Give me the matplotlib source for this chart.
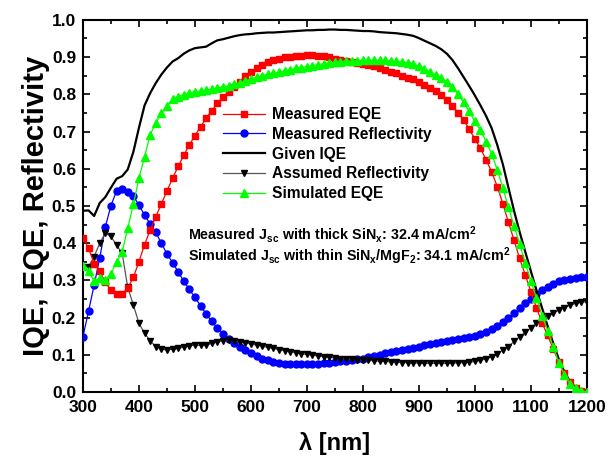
import numpy as np
import matplotlib
matplotlib.use("Agg")
import matplotlib.pyplot as plt
from matplotlib.ticker import MultipleLocator

plt.rcParams['font.family'] = ['Liberation Sans', 'DejaVu Sans']
plt.rcParams['font.weight'] = 'bold'
plt.rcParams['mathtext.fontset'] = 'custom'
plt.rcParams['mathtext.rm'] = 'Liberation Sans:bold'
plt.rcParams['mathtext.default'] = 'rm'

wavelength = np.arange(300, 1201, 10)

measured_eqe = [0.415, 0.386, 0.345, 0.324, 0.295, 0.274, 0.264, 0.264, 0.279, 0.308,
                0.350, 0.396, 0.435, 0.471, 0.505, 0.540, 0.574, 0.606, 0.636, 0.664,
                0.689, 0.713, 0.735, 0.756, 0.776, 0.792, 0.807, 0.820, 0.834, 0.848,
                0.861, 0.871, 0.879, 0.886, 0.891, 0.896, 0.899, 0.901, 0.903, 0.904,
                0.905, 0.905, 0.904, 0.902, 0.899, 0.896, 0.893, 0.890, 0.887, 0.884,
                0.881, 0.878, 0.875, 0.871, 0.866, 0.860, 0.856, 0.850, 0.845, 0.840,
                0.833, 0.825, 0.817, 0.808, 0.797, 0.784, 0.769, 0.751, 0.731, 0.706,
                0.680, 0.655, 0.624, 0.592, 0.552, 0.506, 0.456, 0.408, 0.359, 0.315,
                0.270, 0.227, 0.186, 0.152, 0.116, 0.081, 0.050, 0.027, 0.011, 0.003,
                0.000]

measured_refl = [0.149, 0.217, 0.288, 0.360, 0.444, 0.501, 0.540, 0.546, 0.538, 0.526,
                 0.503, 0.475, 0.452, 0.429, 0.400, 0.371, 0.348, 0.323, 0.298, 0.276,
                 0.254, 0.232, 0.210, 0.190, 0.172, 0.157, 0.143, 0.132, 0.122, 0.113,
                 0.104, 0.096, 0.090, 0.085, 0.081, 0.078, 0.076, 0.075, 0.075, 0.075,
                 0.075, 0.075, 0.076, 0.077, 0.078, 0.080, 0.082, 0.084, 0.086, 0.088,
                 0.090, 0.094, 0.097, 0.100, 0.104, 0.107, 0.110, 0.113, 0.116, 0.119,
                 0.122, 0.125, 0.129, 0.132, 0.134, 0.137, 0.140, 0.143, 0.146, 0.149,
                 0.151, 0.155, 0.162, 0.169, 0.178, 0.188, 0.199, 0.211, 0.225, 0.238,
                 0.251, 0.263, 0.274, 0.283, 0.290, 0.297, 0.301, 0.305, 0.307, 0.309,
                 0.310]

given_iqe = [0.487, 0.488, 0.473, 0.508, 0.524, 0.549, 0.573, 0.580, 0.598, 0.645,
             0.710, 0.770, 0.803, 0.830, 0.853, 0.872, 0.888, 0.897, 0.909, 0.918,
             0.924, 0.926, 0.928, 0.937, 0.945, 0.948, 0.952, 0.956, 0.959, 0.961,
             0.962, 0.964, 0.965, 0.966, 0.966, 0.967, 0.968, 0.969, 0.970, 0.971,
             0.972, 0.972, 0.973, 0.973, 0.974, 0.974, 0.973, 0.973, 0.972, 0.971,
             0.970, 0.970, 0.969, 0.967, 0.966, 0.965, 0.964, 0.962, 0.960, 0.957,
             0.951, 0.944, 0.937, 0.930, 0.921, 0.909, 0.892, 0.870, 0.846, 0.822,
             0.797, 0.770, 0.742, 0.709, 0.664, 0.612, 0.549, 0.487, 0.430, 0.377,
             0.325, 0.274, 0.226, 0.177, 0.131, 0.088, 0.054, 0.028, 0.012, 0.003,
             0.000]

assumed_refl = [0.337, 0.337, 0.364, 0.400, 0.427, 0.418, 0.395, 0.373, 0.281, 0.234,
                0.185, 0.158, 0.138, 0.122, 0.115, 0.113, 0.115, 0.117, 0.121, 0.124,
                0.126, 0.125, 0.125, 0.131, 0.135, 0.138, 0.140, 0.138, 0.135, 0.132,
                0.129, 0.126, 0.123, 0.120, 0.117, 0.114, 0.111, 0.108, 0.106, 0.103,
                0.101, 0.099, 0.097, 0.095, 0.093, 0.092, 0.090, 0.089, 0.088, 0.087,
                0.086, 0.085, 0.084, 0.083, 0.082, 0.081, 0.080, 0.079, 0.079, 0.078,
                0.078, 0.077, 0.077, 0.077, 0.077, 0.077, 0.078, 0.078, 0.079, 0.080,
                0.082, 0.085, 0.089, 0.095, 0.102, 0.112, 0.122, 0.136, 0.148, 0.160,
                0.172, 0.185, 0.195, 0.204, 0.213, 0.220, 0.227, 0.233, 0.238, 0.241,
                0.243]

simulated_eqe = [0.339, 0.325, 0.298, 0.306, 0.300, 0.318, 0.349, 0.377, 0.440, 0.504,
                 0.574, 0.632, 0.691, 0.723, 0.749, 0.768, 0.788, 0.794, 0.799, 0.803,
                 0.807, 0.809, 0.812, 0.814, 0.817, 0.820, 0.822, 0.827, 0.831, 0.836,
                 0.841, 0.846, 0.850, 0.854, 0.857, 0.859, 0.863, 0.866, 0.870, 0.872,
                 0.874, 0.877, 0.880, 0.882, 0.884, 0.886, 0.888, 0.889, 0.889, 0.890,
                 0.891, 0.891, 0.891, 0.891, 0.891, 0.890, 0.889, 0.887, 0.885, 0.881,
                 0.876, 0.869, 0.860, 0.852, 0.843, 0.834, 0.820, 0.801, 0.778, 0.754,
                 0.727, 0.703, 0.673, 0.640, 0.597, 0.549, 0.496, 0.446, 0.398, 0.346,
                 0.299, 0.253, 0.205, 0.165, 0.122, 0.079, 0.046, 0.022, 0.010, 0.003,
                 0.000]

labels = ["Measured EQE", "Measured Reflectivity", "Given IQE",
          "Assumed Reflectivity", "Simulated EQE"]

fig = plt.figure(figsize=(6.10, 4.62), dpi=100)
ax = fig.add_axes([0.136, 0.1515, 0.826, 0.8055])

ax.plot(wavelength, measured_eqe, color='#ff0000', lw=0.9, marker='s', ms=4.2,
        mec='#ff0000', mfc='#ff0000', label=labels[0], zorder=4)
ax.plot(wavelength, measured_refl, color='#0000ff', lw=0.9, marker='o', ms=5,
        mec='#0000ff', mfc='#0000ff', label=labels[1], zorder=3)
ax.plot(wavelength, given_iqe, color='black', lw=1.6, label=labels[2], zorder=3)
ax.plot(wavelength, assumed_refl, color='#555555', lw=0.9, marker='v', ms=5,
        mec='black', mfc='black', label=labels[3], zorder=3)
ax.plot(wavelength, simulated_eqe, color='#00ff00', lw=0.9, marker='^', ms=5.5,
        mec='#00ff00', mfc='#00ff00', label=labels[4], zorder=5)

ax.set_xlim(300, 1200)
ax.set_ylim(0.0, 1.0)
ax.xaxis.set_major_locator(MultipleLocator(100))
ax.xaxis.set_minor_locator(MultipleLocator(50))
ax.yaxis.set_major_locator(MultipleLocator(0.1))
ax.yaxis.set_minor_locator(MultipleLocator(0.05))
ax.yaxis.set_major_formatter(plt.FuncFormatter(lambda v, p: f"{v:.1f}"))
ax.tick_params(which='both', direction='in', top=True, right=True, width=1.2)
ax.tick_params(which='major', length=5, labelsize=12.5)
ax.tick_params(which='minor', length=3)
ax.tick_params(axis='x', which='major', pad=6)
ax.tick_params(axis='y', which='major', pad=5)
for lab in ax.get_xticklabels() + ax.get_yticklabels():
    lab.set_fontweight('bold')
for sp in ax.spines.values():
    sp.set_linewidth(1.5)

ax.set_xlabel(r"λ [nm]", fontsize=17, fontweight='bold', labelpad=12)
ax.set_ylabel("IQE, EQE, Reflectivity", fontsize=21, fontweight='bold', labelpad=1)

leg = ax.legend(loc='upper left', bbox_to_anchor=(0.278, 0.766), frameon=False,
                handlelength=2.7, handletextpad=0.45, borderpad=0.0, borderaxespad=0.0,
                labelspacing=0.31, markerscale=1.0, numpoints=1,
                prop={'weight': 'bold', 'size': 11.2})

ax.text(0.208, 0.422, r"Measured J$_{sc}$ with thick SiN$_{x}$: 32.4 mA/cm$^{2}$",
        transform=ax.transAxes, fontsize=10.3, fontweight='bold', va='center')
ax.text(0.208, 0.364, r"Simulated J$_{sc}$ with thin SiN$_{x}$/MgF$_{2}$: 34.1 mA/cm$^{2}$",
        transform=ax.transAxes, fontsize=10.3, fontweight='bold', va='center')

fig.savefig("out.png", dpi=100)
